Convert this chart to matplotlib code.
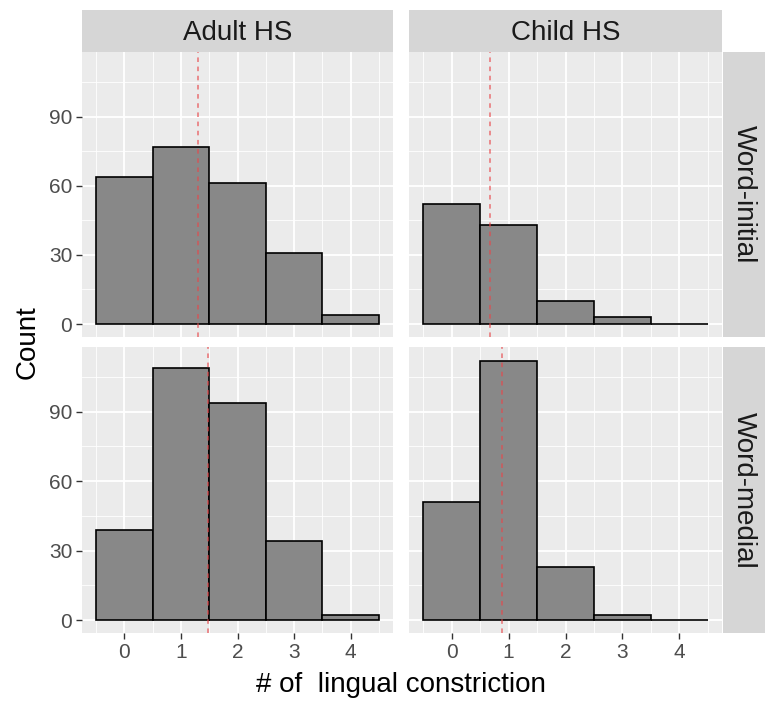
import numpy as np
import matplotlib
matplotlib.use("Agg")
import matplotlib.pyplot as plt

plt.rcParams['font.family'] = ['Liberation Sans', 'DejaVu Sans']

# counts per number of lingual constrictions (bins 0..4)
bins = [0, 1, 2, 3, 4]
adult_initial = [64, 77, 61, 31, 4]
child_initial = [52, 43, 10, 3, 0]
adult_medial = [39, 109, 94, 34, 2]
child_medial = [51, 112, 23, 2, 0]

# group means (red dashed lines)
mean_adult_initial = 1.30
mean_child_initial = 0.67
mean_adult_medial = 1.47
mean_child_medial = 0.88

col_labels = ['Adult HS', 'Child HS']
row_labels = ['Word-initial', 'Word-medial']
yticks = [0, 30, 60, 90]

panels = [[(adult_initial, mean_adult_initial), (child_initial, mean_child_initial)],
          [(adult_medial, mean_adult_medial), (child_medial, mean_child_medial)]]

W, H = 768, 703
fig = plt.figure(figsize=(W / 100, H / 100), dpi=100)

# panel boxes in pixels: (left, top, right, bottom)
col_x = [(82, 393), (409, 722)]
row_y = [(52, 337), (347, 633)]


def px_axes(l, t, r, b):
    return fig.add_axes([l / W, 1 - b / H, (r - l) / W, (b - t) / H])


for i in range(2):
    for j in range(2):
        counts, mean = panels[i][j]
        l, r = col_x[j]
        t, b = row_y[i]
        ax = px_axes(l, t, r, b)
        ax.set_facecolor('#EBEBEB')
        ax.bar(bins, counts, width=1.0, color='#888888', edgecolor='black',
               linewidth=1.2, zorder=3)
        ax.axvline(mean, color='#e8474a', linestyle=(0, (3, 3)), linewidth=1.1,
                   alpha=0.75, zorder=4)
        ax.set_xlim(-0.75, 4.75)
        ax.set_ylim(-5.6, 118)
        ax.set_xticks(bins)
        ax.set_xticks([-0.5, 0.5, 1.5, 2.5, 3.5, 4.5], minor=True)
        ax.set_yticks(yticks)
        ax.set_yticks([15, 45, 75, 105], minor=True)
        ax.grid(which='major', color='white', linewidth=1.3, zorder=0)
        ax.grid(which='minor', color='white', linewidth=0.6, zorder=0)
        ax.set_axisbelow(True)
        for s in ax.spines.values():
            s.set_visible(False)
        ax.tick_params(which='minor', length=0)
        ax.tick_params(which='major', length=4, width=1, color='#333333',
                       labelsize=15, labelcolor='#4D4D4D', pad=3)
        if j != 0:
            ax.tick_params(axis='y', left=False, labelleft=False)
        if i != 1:
            ax.tick_params(axis='x', bottom=False, labelbottom=False)

        # column strips
        if i == 0:
            sax = px_axes(l, 10, r, 52)
            sax.set_facecolor('#D6D6D6')
            sax.set_xticks([])
            sax.set_yticks([])
            for s in sax.spines.values():
                s.set_visible(False)
            sax.text(0.5, 0.45, col_labels[j], ha='center', va='center',
                     fontsize=20, color='#1A1A1A', transform=sax.transAxes)
        # row strips
        if j == 1:
            sax = px_axes(723, t, 765, b)
            sax.set_facecolor('#D6D6D6')
            sax.set_xticks([])
            sax.set_yticks([])
            for s in sax.spines.values():
                s.set_visible(False)
            sax.text(0.5, 0.5, row_labels[i], ha='center', va='center',
                     fontsize=20, color='#1A1A1A', rotation=-90,
                     transform=sax.transAxes)

fig.text(28 / W, 1 - 342 / H, 'Count', rotation=90, ha='center', va='center',
         fontsize=20, color='black')
fig.text(401 / W, 1 - 685 / H, '# of  lingual constriction', ha='center',
         va='center', fontsize=20, color='black')

fig.savefig('out.png', dpi=100, facecolor='white')
